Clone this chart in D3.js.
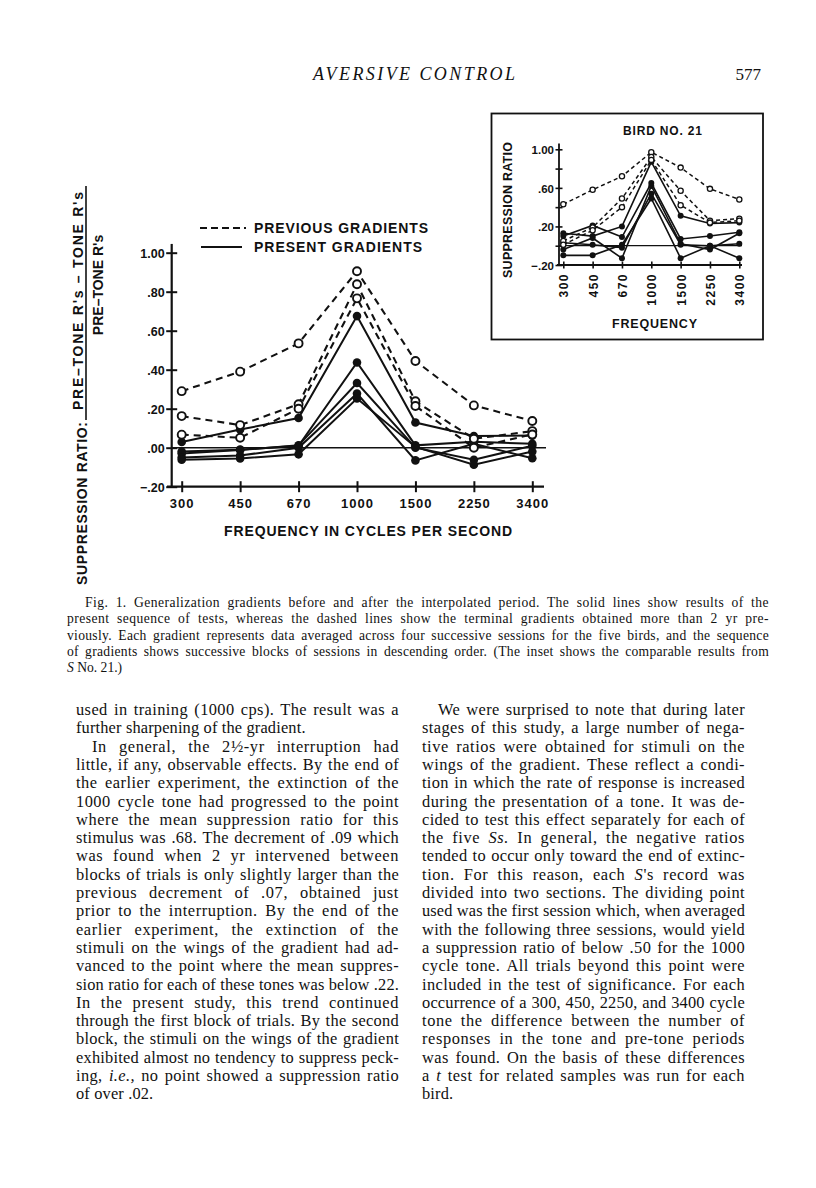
<!DOCTYPE html>
<html>
<head>
<meta charset="utf-8">
<script src="https://cdn.jsdelivr.net/npm/d3@7"></script>
<style>
  html, body { margin: 0; padding: 0; background: #fff; }
  svg { display: block; }
  .lab { font-family: "Liberation Sans", Arial, sans-serif; font-weight: bold; fill: #111; }
  .serif { font-family: "Liberation Serif", "Times New Roman", serif; fill: #111; }
</style>
</head>
<body>
<script>
// ---------------- DATA ----------------
const freqs = ["300", "450", "670", "1000", "1500", "2250", "3400"];

// main chart: previous gradients (dashed, open circles)
const prev1 = [0.29, 0.39, 0.535, 0.905, 0.445, 0.217, 0.137];
const prev2 = [0.162, 0.116, 0.223, 0.838, 0.238, 0.046, 0.085];
const prev3 = [0.067, 0.051, 0.200, 0.766, 0.214, 0.000, 0.068];
// main chart: present gradients (solid, filled circles)
const pres1 = [0.029, 0.093, 0.152, 0.675, 0.129, 0.060, 0.062];
const pres2 = [-0.020, -0.010, 0.010, 0.437, 0.012, 0.030, 0.020];
const pres3 = [-0.030, -0.012, 0.012, 0.332, 0.000, -0.062, 0.010];
const pres4 = [-0.050, -0.040, 0.000, 0.278, -0.065, 0.020, -0.054];
const pres5 = [-0.062, -0.055, -0.034, 0.252, 0.004, -0.087, -0.020];

// inset (Bird No. 21): previous (dashed)
const insPrev1 = [0.43, 0.58, 0.72, 0.97, 0.81, 0.59, 0.48];
const insPrev2 = [0.05, 0.19, 0.49, 0.92, 0.57, 0.26, 0.28];
const insPrev3 = [0.01, 0.16, 0.40, 0.89, 0.42, 0.24, 0.26];
// inset: present (solid)
const insPres1 = [0.13, 0.10, 0.20, 0.87, 0.31, 0.23, 0.24];
const insPres2 = [0.10, 0.21, 0.09, 0.65, 0.07, 0.10, 0.14];
const insPres3 = [-0.04, 0.08, -0.13, 0.62, 0.02, -0.04, 0.13];
const insPres4 = [-0.10, -0.10, 0.01, 0.49, -0.13, 0.00, 0.02];
const insPres5 = [0.03, 0.01, -0.02, 0.54, 0.01, 0.00, -0.13];

const yTickValues = [1.0, 0.8, 0.6, 0.4, 0.2, 0.0, -0.2];
const yTickLabels = ["1.00", ".80", ".60", ".40", ".20", ".00", "\u2212.20"];
const insetTickLabels = ["1.00", "", ".60", "", ".20", "", "\u2212.20"];

const legendLabels = ["PREVIOUS GRADIENTS", "PRESENT GRADIENTS"];
const xTitle = "FREQUENCY IN CYCLES PER SECOND";
const yTitle = "SUPPRESSION RATIO:";
const yNumerator = "PRE\u2013TONE  R's \u2013 TONE  R's";
const yDenominator = "PRE\u2013TONE  R's";
const insetTitle = "BIRD NO. 21";
const insetYTitle = "SUPPRESSION RATIO";
const insetXTitle = "FREQUENCY";

const header = "AVERSIVE CONTROL";
const pageNumber = "577";

const captionLines = [
  "Fig. 1. Generalization gradients before and after the interpolated period. The solid lines show results of the",
  "present sequence of tests, whereas the dashed lines show the terminal gradients obtained more than 2 yr pre-",
  "viously. Each gradient represents data averaged across four successive sessions for the five birds, and the sequence",
  "of gradients shows successive blocks of sessions in descending order. (The inset shows the comparable results from",
  "_S_ No. 21.)"
];

const leftColumn = [
  "used in training (1000 cps). The result was a",
  "further sharpening of the gradient.",
  "In general, the 2\u00BD-yr interruption had",
  "little, if any, observable effects. By the end of",
  "the earlier experiment, the extinction of the",
  "1000 cycle tone had progressed to the point",
  "where the mean suppression ratio for this",
  "stimulus was .68. The decrement of .09 which",
  "was found when 2 yr intervened between",
  "blocks of trials is only slightly larger than the",
  "previous decrement of .07, obtained just",
  "prior to the interruption. By the end of the",
  "earlier experiment, the extinction of the",
  "stimuli on the wings of the gradient had ad-",
  "vanced to the point where the mean suppres-",
  "sion ratio for each of these tones was below .22.",
  "In the present study, this trend continued",
  "through the first block of trials. By the second",
  "block, the stimuli on the wings of the gradient",
  "exhibited almost no tendency to suppress peck-",
  "ing, _i.e.,_ no point showed a suppression ratio",
  "of over .02."
];
const leftIndent = [2];
const leftNoJustify = [1, 21];

const rightColumn = [
  "We were surprised to note that during later",
  "stages of this study, a large number of nega-",
  "tive ratios were obtained for stimuli on the",
  "wings of the gradient. These reflect a condi-",
  "tion in which the rate of response is increased",
  "during the presentation of a tone. It was de-",
  "cided to test this effect separately for each of",
  "the five _Ss._ In general, the negative ratios",
  "tended to occur only toward the end of extinc-",
  "tion. For this reason, each _S_'s record was",
  "divided into two sections. The dividing point",
  "used was the first session which, when averaged",
  "with the following three sessions, would yield",
  "a suppression ratio of below .50 for the 1000",
  "cycle tone. All trials beyond this point were",
  "included in the test of significance. For each",
  "occurrence of a 300, 450, 2250, and 3400 cycle",
  "tone the difference between the number of",
  "responses in the tone and pre-tone periods",
  "was found. On the basis of these differences",
  "a _t_ test for related samples was run for each",
  "bird."
];
const rightIndent = [0];
const rightNoJustify = [21];

// ---------------- DRAW ----------------
const W = 816, H = 1188;
const svg = d3.select("body").append("svg").attr("width", W).attr("height", H);
svg.append("rect").attr("width", W).attr("height", H).attr("fill", "#fff");

// helper: write a line with _italic_ markup; justify using letter- and word-spacing
function writeLine(g, str, x, y, width, opts) {
  const t = g.append("text").attr("class", opts.cls || "serif")
    .attr("x", x).attr("y", y).style("font-size", opts.size + "px")
    .style("letter-spacing", (opts.ls || 0) + "px");
  str.split("_").forEach((seg, i) => {
    if (!seg) return;
    const ts = t.append("tspan").text(seg);
    if (i % 2 === 1) ts.style("font-style", "italic");
  });
  let nat = t.node().getComputedTextLength();
  if (nat > width) {
    t.attr("textLength", width).attr("lengthAdjust", "spacingAndGlyphs");
    return t;
  }
  if (opts.justify) {
    const plain = str.replace(/_/g, "");
    const nChars = plain.length;
    const extra = width - nat;
    const addLs = Math.min(extra * 0.45 / nChars, 0.45);
    t.style("letter-spacing", ((opts.ls || 0) + addLs) + "px");
    nat = t.node().getComputedTextLength();
    const spaces = (plain.match(/ /g) || []).length;
    if (spaces > 0) t.style("word-spacing", ((width - nat) / spaces) + "px");
  }
  return t;
}

// header
svg.append("text").attr("class", "serif").attr("x", 414).attr("y", 80)
  .attr("text-anchor", "middle").style("font-size", "18px").style("font-style", "italic")
  .attr("textLength", 202).attr("lengthAdjust", "spacing").text(header);
svg.append("text").attr("class", "serif").attr("x", 761).attr("y", 80)
  .attr("text-anchor", "end").style("font-size", "17px").text(pageNumber);

// ---------- main chart ----------
const x = d3.scalePoint().domain(freqs).range([181.7, 532.3]);
const y = d3.scaleLinear().domain([-0.2, 1.0]).range([486.7, 252.7]);
const axX = 171.7;
const main = svg.append("g");

// y axis via d3.axisLeft (ticks crossing)
const yAxis = d3.axisLeft(y).tickValues(yTickValues)
  .tickFormat((d, i) => yTickLabels[i]).tickSize(0).tickPadding(6);
const yg = main.append("g").attr("transform", `translate(${axX},0)`).call(yAxis);
yg.select(".domain").remove();
yg.selectAll(".tick text").attr("class", "lab").style("font-size", "12.5px")
  .attr("dy", "0.36em").attr("x", -7).attr("fill", "#111");
yg.selectAll(".tick").append("line").attr("x1", -5.5).attr("x2", 5.5)
  .attr("stroke", "#111").attr("stroke-width", 2);
main.append("line").attr("x1", axX).attr("x2", axX).attr("y1", y(1.045)).attr("y2", y(-0.2) + 1)
  .attr("stroke", "#111").attr("stroke-width", 2.2);

// x axis via d3.axisBottom
const xAxis = d3.axisBottom(x).tickSize(0).tickPadding(12);
const xg = main.append("g").attr("transform", `translate(0,${y(-0.2)})`).call(xAxis);
xg.select(".domain").remove();
xg.selectAll(".tick text").attr("class", "lab").style("font-size", "13px")
  .style("letter-spacing", "1px").attr("fill", "#111");
xg.selectAll(".tick").append("line").attr("y1", -5.5).attr("y2", 5.5)
  .attr("stroke", "#111").attr("stroke-width", 2);
main.append("line").attr("x1", 167).attr("x2", 544).attr("y1", y(-0.2)).attr("y2", y(-0.2))
  .attr("stroke", "#111").attr("stroke-width", 2.2);
// zero line
main.append("line").attr("x1", axX).attr("x2", 546).attr("y1", y(0)).attr("y2", y(0))
  .attr("stroke", "#111").attr("stroke-width", 1.6);

const line = d3.line().x((d, i) => x(freqs[i])).y(d => y(d));
const presMain = [pres1, pres2, pres3, pres4, pres5];
const prevMain = [prev1, prev2, prev3];
main.selectAll(".presL").data(presMain).join("path").attr("d", line)
  .attr("fill", "none").attr("stroke", "#111").attr("stroke-width", 2);
main.selectAll(".prevL").data(prevMain).join("path").attr("d", line)
  .attr("fill", "none").attr("stroke", "#111").attr("stroke-width", 2.1)
  .attr("stroke-dasharray", "7,5");
presMain.forEach(s => {
  main.selectAll(null).data(s).join("circle").attr("cx", (d, i) => x(freqs[i])).attr("cy", d => y(d))
    .attr("r", 4.3).attr("fill", "#111");
});
prevMain.forEach(s => {
  main.selectAll(null).data(s).join("circle").attr("cx", (d, i) => x(freqs[i])).attr("cy", d => y(d))
    .attr("r", 4).attr("fill", "#fff").attr("stroke", "#111").attr("stroke-width", 1.9);
});

// legend
main.append("line").attr("x1", 200).attr("x2", 246).attr("y1", 228).attr("y2", 228)
  .attr("stroke", "#111").attr("stroke-width", 2).attr("stroke-dasharray", "7,4");
main.append("line").attr("x1", 201).attr("x2", 242).attr("y1", 247).attr("y2", 247)
  .attr("stroke", "#111").attr("stroke-width", 2);
main.append("text").attr("class", "lab").attr("x", 254).attr("y", 233).style("font-size", "14px")
  .attr("textLength", 174).attr("lengthAdjust", "spacing").text(legendLabels[0]);
main.append("text").attr("class", "lab").attr("x", 254).attr("y", 252).style("font-size", "14px")
  .attr("textLength", 168).attr("lengthAdjust", "spacing").text(legendLabels[1]);

// x title
main.append("text").attr("class", "lab").attr("x", 224).attr("y", 536).style("font-size", "14px")
  .attr("textLength", 288).attr("lengthAdjust", "spacing").text(xTitle);

// y title (rotated fraction)
const bar = 86;
main.append("text").attr("class", "lab").style("font-size", "14px")
  .attr("transform", `translate(${bar - 3},410) rotate(-90)`)
  .attr("textLength", 218).attr("lengthAdjust", "spacing").text(yNumerator);
main.append("text").attr("class", "lab").style("font-size", "14px")
  .attr("text-anchor", "middle")
  .attr("transform", `translate(${bar + 17},285) rotate(-90)`)
  .text(yDenominator);
main.append("text").attr("class", "lab").style("font-size", "14px")
  .attr("transform", `translate(${bar + 1},585) rotate(-90)`)
  .attr("textLength", 163).attr("lengthAdjust", "spacing").text(yTitle);
main.append("line").attr("x1", bar).attr("x2", bar).attr("y1", 186).attr("y2", 420)
  .attr("stroke", "#111").attr("stroke-width", 1.6);

// ---------- inset ----------
const ix = d3.scalePoint().domain(freqs).range([563.3, 739.3]);
const iy = d3.scaleLinear().domain([-0.2, 1.0]).range([265, 149.3]);
const inset = svg.append("g");
inset.append("rect").attr("x", 491.5).attr("y", 113.5).attr("width", 271.5).attr("height", 226)
  .attr("fill", "none").attr("stroke", "#111").attr("stroke-width", 1.8);
const iaxX = 559;
const iyAxis = d3.axisLeft(iy).tickValues(yTickValues)
  .tickFormat((d, i) => insetTickLabels[i]).tickSize(0).tickPadding(5);
const iyg = inset.append("g").attr("transform", `translate(${iaxX},0)`).call(iyAxis);
iyg.select(".domain").remove();
iyg.selectAll(".tick text").attr("class", "lab").style("font-size", "11.5px")
  .attr("dy", "0.36em").attr("x", -5).attr("fill", "#111");
iyg.selectAll(".tick").append("line").attr("x1", -3.5).attr("x2", 3.5)
  .attr("stroke", "#111").attr("stroke-width", 1.6);
inset.append("line").attr("x1", iaxX).attr("x2", iaxX).attr("y1", iy(1.06)).attr("y2", iy(-0.2))
  .attr("stroke", "#111").attr("stroke-width", 1.8);
const ixAxis = d3.axisBottom(ix).tickSize(0).tickFormat(() => "");
const ixg = inset.append("g").attr("transform", `translate(0,${iy(-0.2)})`).call(ixAxis);
ixg.select(".domain").remove();
ixg.selectAll(".tick").append("line").attr("y1", -3.5).attr("y2", 3.5)
  .attr("stroke", "#111").attr("stroke-width", 1.6);
ixg.selectAll(".tick").append("text").attr("class", "lab")
  .attr("transform", "translate(4.5,8) rotate(-90)").attr("text-anchor", "end")
  .style("font-size", "12px").style("letter-spacing", "1.5px")
  .text(d => d);
inset.append("line").attr("x1", 557).attr("x2", 742).attr("y1", iy(-0.2)).attr("y2", iy(-0.2))
  .attr("stroke", "#111").attr("stroke-width", 1.8);
inset.append("line").attr("x1", iaxX).attr("x2", 742).attr("y1", iy(0)).attr("y2", iy(0))
  .attr("stroke", "#111").attr("stroke-width", 1.3);

const iline = d3.line().x((d, i) => ix(freqs[i])).y(d => iy(d));
const insPres = [insPres1, insPres2, insPres3, insPres4, insPres5];
const insPrev = [insPrev1, insPrev2, insPrev3];
inset.selectAll(".ipres").data(insPres).join("path").attr("d", iline)
  .attr("fill", "none").attr("stroke", "#111").attr("stroke-width", 1.6);
inset.selectAll(".iprev").data(insPrev).join("path").attr("d", iline)
  .attr("fill", "none").attr("stroke", "#111").attr("stroke-width", 1.5)
  .attr("stroke-dasharray", "4,3");
insPres.forEach(s => {
  inset.selectAll(null).data(s).join("circle").attr("cx", (d, i) => ix(freqs[i])).attr("cy", d => iy(d))
    .attr("r", 3).attr("fill", "#111");
});
insPrev.forEach(s => {
  inset.selectAll(null).data(s).join("circle").attr("cx", (d, i) => ix(freqs[i])).attr("cy", d => iy(d))
    .attr("r", 2.6).attr("fill", "#fff").attr("stroke", "#111").attr("stroke-width", 1.3);
});
inset.append("text").attr("class", "lab").attr("x", 623).attr("y", 135).style("font-size", "12px")
  .attr("textLength", 79).attr("lengthAdjust", "spacing").text(insetTitle);
inset.append("text").attr("class", "lab").style("font-size", "12.5px")
  .attr("transform", "translate(511.5,278) rotate(-90)")
  .attr("textLength", 136).attr("lengthAdjust", "spacing").text(insetYTitle);
inset.append("text").attr("class", "lab").attr("x", 612).attr("y", 328).style("font-size", "12.5px")
  .attr("textLength", 85).attr("lengthAdjust", "spacing").text(insetXTitle);

// ---------- caption ----------
const cap = svg.append("g");
captionLines.forEach((s, i) => {
  const x0 = i === 0 ? 85 : 67;
  writeLine(cap, s, x0, 607 + i * 16.3, 769 - x0, { size: 13.6, justify: i < captionLines.length - 1 });
});

// ---------- body columns ----------
const body = svg.append("g");
const lineH = 18.3, top0 = 715;
leftColumn.forEach((s, i) => {
  const ind = leftIndent.includes(i) ? 16 : 0;
  writeLine(body, s, 76 + ind, top0 + i * lineH, 399 - 76 - ind,
    { size: 16.4, ls: 0.15, justify: !leftNoJustify.includes(i) });
});
rightColumn.forEach((s, i) => {
  const ind = rightIndent.includes(i) ? 16 : 0;
  writeLine(body, s, 422 + ind, top0 + i * lineH, 745 - 422 - ind,
    { size: 16.4, ls: 0.15, justify: !rightNoJustify.includes(i) });
});
</script>
</body>
</html>
